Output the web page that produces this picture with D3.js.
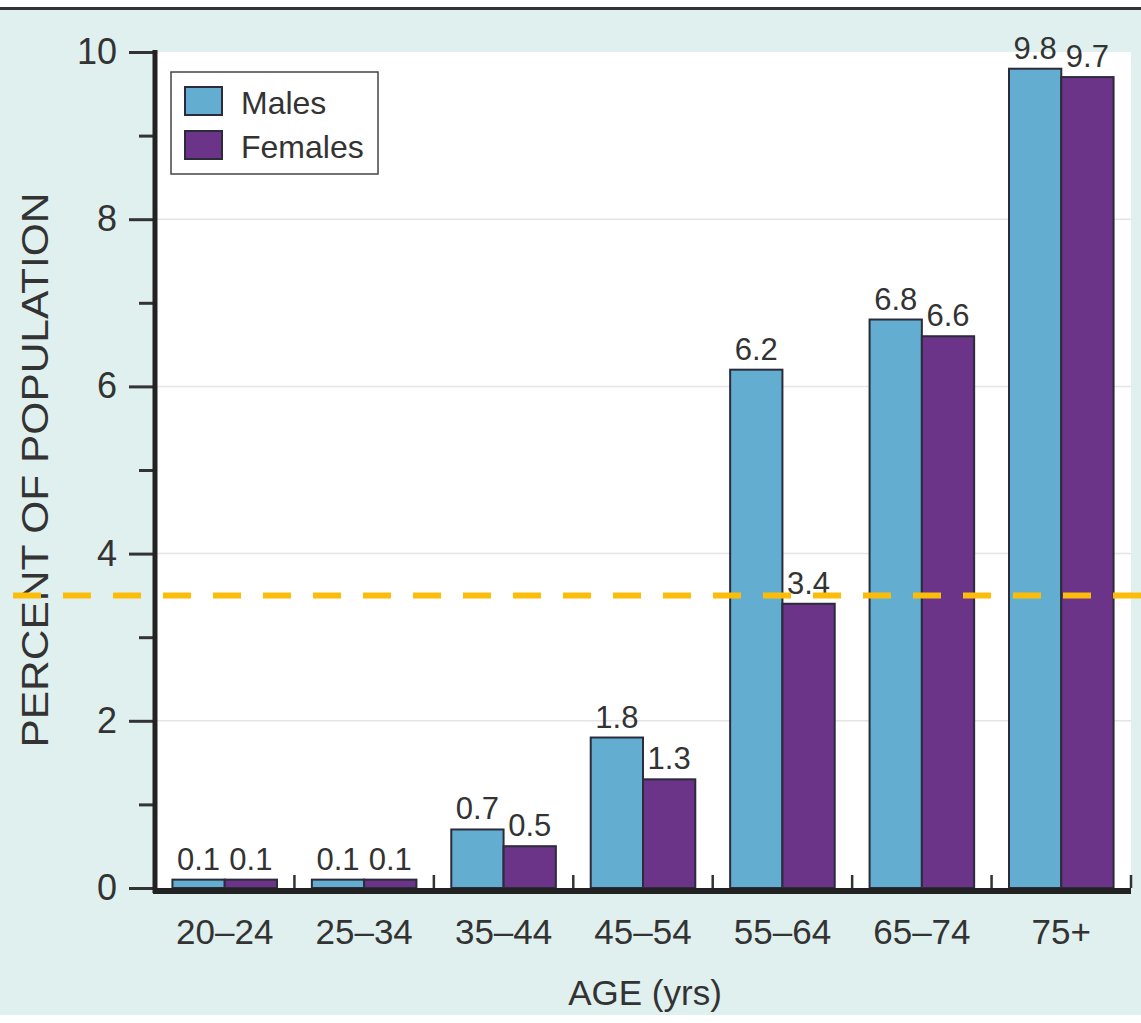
<!DOCTYPE html>
<html><head><meta charset="utf-8">
<script src="https://cdn.jsdelivr.net/npm/d3@7"></script>
<style>
html,body{margin:0;padding:0;background:#fff;}
svg{display:block;font-family:"Liberation Sans",Arial,Helvetica,sans-serif;}
</style></head>
<body>
<svg id="chart" width="1141" height="1023"></svg>
<script>
const categories = ["20–24","25–34","35–44","45–54","55–64","65–74","75+"];
const males   = [0.1, 0.1, 0.7, 1.8, 6.2, 6.8, 9.8];
const females = [0.1, 0.1, 0.5, 1.3, 3.4, 6.6, 9.7];
const seriesNames = ["Males","Females"];
const majorTicks = [0,2,4,6,8,10];
const minorTicks = [1,3,5,7,9];
const referenceValue = 3.5;

(function(){
const W = 1141, H = 1023;
const colors = {Males:"#63aed0", Females:"#6c3488"};
const textColor = "#333";
const svg = d3.select("#chart");

// background
svg.append("rect").attr("x",0).attr("y",0).attr("width",W).attr("height",H).attr("fill","#ffffff");
svg.append("rect").attr("x",0).attr("y",10).attr("width",W).attr("height",1005).attr("fill","#e0f0ee");
svg.append("rect").attr("x",0).attr("y",7).attr("width",W).attr("height",3).attr("fill","#333");

const pLeft = 155, pRight = 1131, pTop = 52, pBottom = 888;
svg.append("rect").attr("x",pLeft).attr("y",pTop).attr("width",pRight-pLeft).attr("height",pBottom-pTop).attr("fill","#ffffff");

const x = d3.scaleBand().domain(categories).range([pLeft, pRight]).padding(0);
const y = d3.scaleLinear().domain([0,10]).range([pBottom, pTop]);
const bw = x.bandwidth()*0.375;

// gridlines
svg.append("g").selectAll("line").data(majorTicks.filter(d=>d>0 && d<10)).join("line")
  .attr("x1",pLeft).attr("x2",pRight).attr("y1",d=>y(d)).attr("y2",d=>y(d))
  .attr("stroke","#e4e4e4").attr("stroke-width",1.5);

// bars
const barData = categories.flatMap((c,i)=>[
  {cat:c, s:"Males", v:males[i], off:-bw},
  {cat:c, s:"Females", v:females[i], off:0}
]);
svg.append("g").selectAll("rect").data(barData).join("rect")
  .attr("x", d=>x(d.cat)+x.bandwidth()/2+d.off)
  .attr("y", d=>y(d.v))
  .attr("width", bw)
  .attr("height", d=>y(0)-y(d.v))
  .attr("fill", d=>colors[d.s])
  .attr("stroke","#2b2b3b").attr("stroke-width",2);

// value labels
svg.append("g").selectAll("text").data(barData).join("text")
  .attr("x", d=>x(d.cat)+x.bandwidth()/2+d.off+bw/2)
  .attr("y", d=>y(d.v)-10)
  .attr("text-anchor","middle")
  .attr("font-size",31).attr("fill",textColor)
  .text(d=>d.v.toFixed(1));

// y axis
const yAxis = d3.axisLeft(y).tickValues(majorTicks).tickSize(26).tickPadding(12).tickFormat(d3.format("d"));
const gy = svg.append("g").attr("transform",`translate(${pLeft},0)`).call(yAxis);
gy.select(".domain").remove();
gy.selectAll(".tick line").attr("stroke","#333").attr("stroke-width",3);
gy.selectAll(".tick text").attr("font-size",36).attr("fill",textColor).attr("font-family","Liberation Sans, Arial, sans-serif");
const yMinor = d3.axisLeft(y).tickValues(minorTicks).tickSize(16).tickFormat("");
const gym = svg.append("g").attr("transform",`translate(${pLeft},0)`).call(yMinor);
gym.select(".domain").remove();
gym.selectAll(".tick line").attr("stroke","#333").attr("stroke-width",3);
svg.append("line").attr("x1",pLeft).attr("x2",pLeft).attr("y1",pTop-2).attr("y2",pBottom+5)
  .attr("stroke","#222").attr("stroke-width",5);

// x axis
const xAxis = d3.axisBottom(x).tickSize(0).tickPadding(31);
const gx = svg.append("g").attr("transform",`translate(0,${pBottom})`).call(xAxis);
gx.select(".domain").remove();
gx.selectAll(".tick text").attr("font-size",35).attr("fill",textColor).attr("font-family","Liberation Sans, Arial, sans-serif");
// boundary ticks (inward)
svg.append("g").selectAll("line").data(categories).join("line")
  .attr("x1",d=>x(d)+x.bandwidth()).attr("x2",d=>x(d)+x.bandwidth())
  .attr("y1",pBottom).attr("y2",pBottom-13)
  .attr("stroke","#333").attr("stroke-width",2.5);
svg.append("line").attr("x1",pLeft-2).attr("x2",pRight).attr("y1",pBottom+3).attr("y2",pBottom+3)
  .attr("stroke","#222").attr("stroke-width",6);

// axis titles
svg.append("text").attr("x",645).attr("y",1005).attr("text-anchor","middle")
  .attr("font-size",35).attr("fill",textColor).text("AGE (yrs)");
svg.append("text").attr("transform",`translate(48,${y(5)}) rotate(-90)`).attr("text-anchor","middle")
  .attr("font-size",37).attr("fill",textColor)
  .attr("textLength",555).attr("lengthAdjust","spacingAndGlyphs")
  .text("PERCENT OF POPULATION");

// reference line
svg.append("line").attr("x1",13).attr("x2",W).attr("y1",y(referenceValue)).attr("y2",y(referenceValue))
  .attr("stroke","#fbbd0a").attr("stroke-width",6).attr("stroke-dasharray","28,22");

// legend
const lg = svg.append("g");
lg.append("rect").attr("x",171).attr("y",72).attr("width",207).attr("height",102)
  .attr("fill","#fff").attr("stroke","#444").attr("stroke-width",1.5);
seriesNames.forEach((s,i)=>{
  lg.append("rect").attr("x",185).attr("y",87+i*44).attr("width",37).attr("height",28)
    .attr("fill",colors[s]).attr("stroke","#2b2b3b").attr("stroke-width",2);
  lg.append("text").attr("x",241).attr("y",114+i*44).attr("font-size",32).attr("fill",textColor).text(s);
});
})();
</script>
</body></html>
